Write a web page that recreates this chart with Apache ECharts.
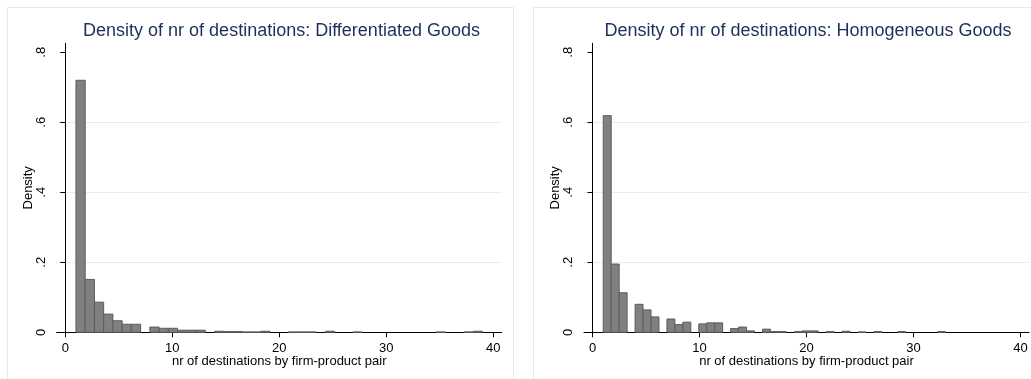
<!DOCTYPE html>
<html>
<head>
<meta charset="utf-8">
<script src="https://cdn.jsdelivr.net/npm/echarts@6/dist/echarts.min.js"></script>
<style>html,body{margin:0;padding:0;background:#fff}#c{width:1031px;height:379px}</style>
</head>
<body>
<div id="c"></div>
<script>
// ---- data ----
const titles = ['Density of nr of destinations: Differentiated Goods', 'Density of nr of destinations: Homogeneous Goods'];
const xName = 'nr of destinations by firm-product pair';
const yName = 'Density';
const xTickValues = [0, 10, 20, 30, 40];
const yTickValues = [0, 0.2, 0.4, 0.6, 0.8];
const yTickLabels = ['0', '.2', '.4', '.6', '.8'];

// histogram: range [first, last] split into equal-width bins, one density per bin
const diffRange = [1, 39];
const diffDensity = [
  0.720, 0.151, 0.086, 0.052, 0.033, 0.023, 0.023, 0,
  0.015, 0.0115, 0.0115, 0.006, 0.006, 0.006, 0,
  0.003, 0.002, 0.002, 0.001, 0.001, 0.003, 0, 0,
  0.001, 0.001, 0.001, 0, 0.003, 0, 0, 0.001,
  0, 0, 0, 0, 0, 0, 0, 0,
  0.001, 0, 0, 0.001, 0.003
];
const homRange = [1, 33];
const homDensity = [
  0.619, 0.195, 0.113, 0, 0.080, 0.064, 0.044, 0,
  0.038, 0.022, 0.029, 0, 0.024, 0.027, 0.027, 0,
  0.0105, 0.015, 0.004, 0, 0.009, 0.002, 0.002, 0,
  0.002, 0.004, 0.004, 0, 0.002, 0, 0.003, 0,
  0.001, 0, 0.002, 0, 0, 0.002, 0, 0, 0, 0, 0.002
];

function bins(range, dens) {
  const w = (range[1] - range[0]) / dens.length;
  const out = [];
  dens.forEach((d, k) => { if (d > 0) out.push([range[0] + k * w, range[0] + (k + 1) * w, d]); });
  return out;
}

const FONT = '"Liberation Sans", Arial, sans-serif';
const chart = echarts.init(document.getElementById('c'), null, {renderer: 'canvas'});

function renderBar(params, api) {
  const p0 = api.coord([api.value(0), 0]);
  const p1 = api.coord([api.value(1), api.value(2)]);
  return {
    type: 'rect',
    shape: {x: p0[0], y: p1[1], width: p1[0] - p0[0], height: p0[1] - p1[1]},
    style: {fill: '#808080', stroke: '#5c5c5c', lineWidth: 1}
  };
}

function xAxisCfg(i) {
  return {
    type: 'value', gridIndex: i, min: -0.8, max: 40.8,
    name: xName, nameLocation: 'middle', nameGap: 23, nameMoveOverlap: false,
    nameTextStyle: {fontFamily: FONT, fontSize: 13, color: '#000'},
    axisLine: {show: true, onZero: false, lineStyle: {color: '#000', width: 1}},
    axisTick: {show: true, length: 5, customValues: xTickValues, lineStyle: {color: '#000'}},
    axisLabel: {customValues: xTickValues, margin: 10, fontFamily: FONT, fontSize: 13, color: '#000'},
    splitLine: {show: false}
  };
}
function yAxisCfg(i) {
  return {
    type: 'value', gridIndex: i, min: 0, max: 0.8257, interval: 0.2,
    name: yName, nameLocation: 'middle', nameGap: 22, nameRotate: 90, nameMoveOverlap: false,
    nameTextStyle: {fontFamily: FONT, fontSize: 13, color: '#000'},
    axisLine: {show: true, lineStyle: {color: '#000', width: 1}},
    axisTick: {show: true, length: 5, customValues: yTickValues, lineStyle: {color: '#000'}},
    axisLabel: {customValues: yTickValues, rotate: 90, margin: 9, fontFamily: FONT, fontSize: 13, color: '#000',
      formatter: v => { const j = yTickValues.findIndex(t => Math.abs(t - v) < 1e-9); return j >= 0 ? yTickLabels[j] : ''; }},
    splitLine: {show: true, showMinLine: false, showMaxLine: false, lineStyle: {color: '#e4eef0', width: 1}}
  };
}

const option = {
  animation: false,
  backgroundColor: '#fff',
  grid: [
    {left: 56.7, top: 43.3, width: 445, height: 289},
    {left: 584, top: 43.3, width: 445, height: 289}
  ],
  xAxis: [xAxisCfg(0), xAxisCfg(1)],
  yAxis: [yAxisCfg(0), yAxisCfg(1)],
  graphic: [
    {type: 'rect', silent: true, z: -10, shape: {x: 7.5, y: 7.5, width: 506, height: 380}, style: {fill: 'none', stroke: '#e2eaee', lineWidth: 1}},
    {type: 'rect', silent: true, z: -10, shape: {x: 533.5, y: 7.5, width: 510, height: 380}, style: {fill: 'none', stroke: '#e2eaee', lineWidth: 1}},
    {type: 'text', x: 281.5, y: 31, style: {text: titles[0], fontFamily: FONT, fontSize: 18, fill: '#1f2f5c', align: 'center', verticalAlign: 'middle'}},
    {type: 'text', x: 808, y: 31, style: {text: titles[1], fontFamily: FONT, fontSize: 18, fill: '#1f2f5c', align: 'center', verticalAlign: 'middle'}}
  ],
  series: [
    {type: 'custom', xAxisIndex: 0, yAxisIndex: 0, renderItem: renderBar, encode: {x: [0, 1], y: 2}, data: bins(diffRange, diffDensity)},
    {type: 'custom', xAxisIndex: 1, yAxisIndex: 1, renderItem: renderBar, encode: {x: [0, 1], y: 2}, data: bins(homRange, homDensity)}
  ]
};
chart.setOption(option);
</script>
</body>
</html>
